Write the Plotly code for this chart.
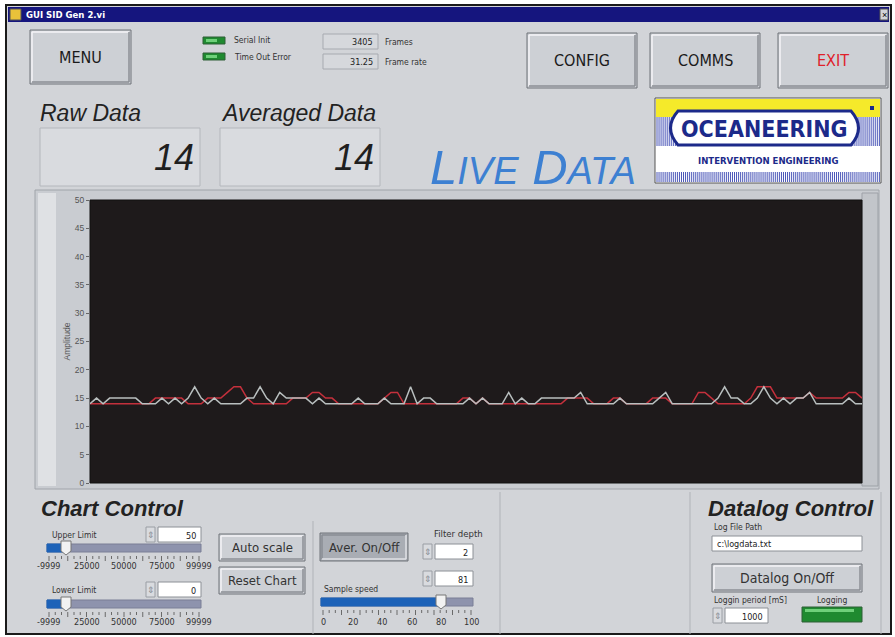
import plotly.graph_objects as go

# ---------------- data ----------------
raw_values = [14, 15, 14, 15, 15, 15, 15, 15, 14, 14,
              14, 15, 14, 15, 14, 15, 17, 15, 14, 15,
              14, 14, 14, 14, 15, 15, 17, 15, 14, 16,
              15, 15, 15, 15, 14, 15, 14, 14, 14, 14,
              14, 15, 14, 14, 14, 15, 14, 14, 14, 17,
              14, 15, 15, 14, 14, 14, 14, 14, 15, 14,
              15, 14, 14, 14, 16, 14, 15, 14, 14, 15,
              15, 15, 15, 15, 15, 16, 14, 14, 14, 14,
              14, 15, 14, 14, 14, 14, 14, 15, 16, 14,
              14, 14, 14, 14, 14, 14, 15, 17, 15, 15,
              14, 14, 15, 17, 15, 14, 15, 14, 15, 15,
              16, 14, 14, 14, 14, 14, 15, 14, 14]
avg_values = [14, 14, 14, 14, 14, 14, 14, 14, 14, 14,
              15, 15, 15, 15, 15, 14, 14, 14, 15, 15,
              15, 16, 17, 17, 15, 14, 14, 14, 14, 14,
              14, 15, 15, 15, 16, 16, 15, 15, 14, 14,
              14, 14, 14, 14, 14, 15, 16, 16, 14, 14,
              14, 14, 14, 14, 14, 14, 14, 15, 15, 14,
              15, 14, 14, 14, 14, 14, 14, 14, 14, 14,
              14, 14, 14, 15, 15, 15, 15, 14, 14, 14,
              15, 15, 14, 14, 14, 14, 15, 15, 15, 14,
              14, 14, 14, 16, 16, 15, 14, 14, 14, 14,
              14, 15, 17, 17, 17, 15, 15, 15, 15, 15,
              16, 15, 15, 15, 15, 15, 16, 16, 15]
samples = list(range(len(raw_values)))
y_ticks = [0, 5, 10, 15, 20, 25, 30, 35, 40, 45, 50]
limit_ticks = ["-9999", "25000", "50000", "75000", "99999"]
speed_ticks = ["0", "20", "40", "60", "80", "100"]

# ---------------- geometry helpers (pixel -> paper) ----------------
FW, FH = 895, 637
PL, PR, PT, PB = 90, 862, 200, 483
PW, PH = PR - PL, PB - PT


def px(x):
    return (x - PL) / PW


def py(y):
    return (PB - y) / PH


shapes = []
annotations = []
FONT = "Liberation Sans, Arial, sans-serif"
NARROW = "Liberation Sans Narrow, DejaVu Sans Condensed, Arial, sans-serif"


def rect(x0, y0, x1, y1, fill, line="rgba(0,0,0,0)", lw=1, layer="below"):
    shapes.append(dict(type="rect", xref="paper", yref="paper",
                       x0=px(x0), x1=px(x1), y0=py(y1), y1=py(y0),
                       fillcolor=fill, line=dict(color=line, width=lw),
                       layer=layer))


def hline(x0, x1, y, color, lw=1):
    shapes.append(dict(type="line", xref="paper", yref="paper",
                       x0=px(x0), x1=px(x1), y0=py(y), y1=py(y),
                       line=dict(color=color, width=lw), layer="below"))


def vline(x, y0, y1, color, lw=1):
    shapes.append(dict(type="line", xref="paper", yref="paper",
                       x0=px(x), x1=px(x), y0=py(y0), y1=py(y1),
                       line=dict(color=color, width=lw), layer="below"))


def text(x, y, s, size=9, color="#333", anchor="left", italic=False,
         bold=False, family=FONT, vanchor="middle"):
    if bold:
        s = "<b>" + s + "</b>"
    if italic:
        s = "<i>" + s + "</i>"
    annotations.append(dict(xref="paper", yref="paper", x=px(x), y=py(y),
                            text=s, showarrow=False, xanchor=anchor,
                            yanchor=vanchor,
                            font=dict(size=size, color=color, family=family)))


def button(x0, y0, x1, y1, pressed=False):
    fill = "#a9adb4" if pressed else "#cdd0d5"
    rect(x0, y0, x1, y1, fill, "#6f7379", 1)
    hl = "#8a8e94" if pressed else "#f4f5f7"
    sh = "#e0e2e6" if pressed else "#8b8f95"
    hline(x0 + 2, x1 - 2, y0 + 2, hl, 1.5)
    vline(x0 + 2, y0 + 2, y1 - 2, hl, 1.5)
    hline(x0 + 2, x1 - 2, y1 - 2, sh, 1.5)
    vline(x1 - 2, y0 + 2, y1 - 2, sh, 1.5)


def numbox(x0, y0, x1, y1, val, size=9, spin=True):
    if spin:
        rect(x0 - 12, y0, x0 - 3, y1, "#d9dbdf", "#9a9ea4", 1)
        text(x0 - 7.5, (y0 + y1) / 2, "⇕", size=9, color="#8a8e94",
             anchor="center")
    rect(x0, y0, x1, y1, "#ffffff", "#8c9096", 1)
    text(x1 - 3, (y0 + y1) / 2 + 1, val, size=size, color="#222",
         anchor="right", family=NARROW)


def led(x0, y0, x1, y1):
    rect(x0, y0, x1, y1, "#1f8a30", "#2f5f36", 1)
    rect(x0 + 3, y0 + 2, x1 - 8, y0 + 5, "#6fd07a", "rgba(0,0,0,0)", 0)


def slider(x0, x1, y, thumb, labels, label_y):
    rect(x0, y - 4, x1, y + 4, "#8e93ad", "#7b7f96", 1)
    rect(x0, y - 4, thumb, y + 4, "#1d62b8", "#1d62b8", 1)
    shapes.append(dict(type="path", xref="paper", yref="paper",
                       path="M {} {} L {} {} L {} {} L {} {} L {} {} Z".format(
                           px(thumb - 5), py(y - 7), px(thumb + 5), py(y - 7),
                           px(thumb + 5), py(y + 3), px(thumb), py(y + 7),
                           px(thumb - 5), py(y + 3)),
                       fillcolor="#f2f2f2", line=dict(color="#777", width=1),
                       layer="below"))
    n = 25
    for k in range(n):
        xx = x0 + 2 + k * (x1 - x0 - 4) / (n - 1)
        vline(xx, y + 8, y + (13 if k % 3 == 0 else 11), "#6a6a6a", 1)
    m = len(labels)
    for k, lab in enumerate(labels):
        xx = x0 + 2 + k * (x1 - x0 - 4) / (m - 1)
        text(xx, label_y, lab, size=9, color="#333", anchor="center",
             family=NARROW)


# ---------------- window background ----------------
rect(0, 0, FW, FH, "#ffffff")
rect(6, 5, 891, 634, "#d2d4d8", "#1a1a1a", 2)
rect(8, 7, 889, 22, "#15157e")
rect(10, 9, 21, 20, "#e8c23a", "#555", 1)
text(24, 14.5, "GUI SID Gen 2.vi", size=9.5, color="#ffffff", bold=True,
     family=NARROW)
rect(880, 9, 888, 20, "#d2d4d8", "#555", 1)
text(884, 14.5, "×", size=9, color="#000", anchor="center")

# ---------------- top bar ----------------
button(30, 30, 131, 84)
text(80.5, 57, "MENU", size=16, color="#1a1a1a", anchor="center", family=NARROW)
led(203, 37, 225, 44)
text(232, 40, "Serial Init", size=8.5, color="#333", family=NARROW)
led(203, 53, 225, 60)
text(232, 57, "Time Out Error", size=8.5, color="#333", family=NARROW)
rect(323, 34, 378, 49, "#d6d8dc", "#a7aab0", 1)
text(375, 41.5, "3405", size=9, color="#222", anchor="right", family=NARROW)
text(383, 41.5, "Frames", size=8.5, color="#333", family=NARROW)
rect(323, 54, 378, 69, "#d6d8dc", "#a7aab0", 1)
text(375, 61.5, "31.25", size=9, color="#222", anchor="right", family=NARROW)
text(383, 61.5, "Frame rate", size=8.5, color="#333", family=NARROW)
button(527, 33, 637, 88)
text(582, 60.5, "CONFIG", size=16, color="#1a1a1a", anchor="center", family=NARROW)
button(650, 33, 760, 88)
text(705, 60.5, "COMMS", size=16, color="#1a1a1a", anchor="center", family=NARROW)
button(778, 33, 888, 88)
text(833, 60.5, "EXIT", size=16, color="#e0202a", anchor="center", family=NARROW)

# ---------------- readouts ----------------
text(38, 113, "Raw Data", size=23, color="#222", italic=True)
rect(40, 128, 200, 186, "#d9dbdf", "#b4b7bc", 1)
text(196, 157, "14", size=36, color="#1f1f1f", anchor="right", italic=True)
text(219, 113, "Averaged Data", size=23, color="#222", italic=True)
rect(220, 128, 380, 186, "#d9dbdf", "#b4b7bc", 1)
text(376, 157, "14", size=36, color="#1f1f1f", anchor="right", italic=True)
text(428, 167,
     "L<span style='font-size:38px'>IVE</span> D<span style='font-size:38px'>ATA</span>",
     size=49, color="#3d80d2", italic=True, family=FONT)

# ---------------- logo ----------------
rect(655, 98, 881, 183, "#ffffff", "#555", 1)
rect(656, 99, 880, 117, "#f5ea2a")
for k in range(110):
    xx = 657 + k * 2.04
    vline(xx, 117, 146, "#4a56b8", 1)
    vline(xx, 172, 182, "#4a56b8", 1)
rect(656, 146, 880, 171, "#ffffff")
shapes.append(dict(type="path", xref="paper", yref="paper",
                   path="M {} {} L {} {} Q {} {} {} {} L {} {} Q {} {} {} {} Z".format(
                       px(678), py(111), px(851), py(111),
                       px(866), py(128), px(851), py(145),
                       px(678), py(145),
                       px(663), py(128), px(678), py(111)),
                   fillcolor="#ffffff", line=dict(color="#1c2a8a", width=3),
                   layer="below"))
text(764, 129, "OCEANEERING", size=23, color="#1c2a8a", anchor="center",
     bold=True, family="DejaVu Sans Condensed, Liberation Sans Narrow, sans-serif")
text(768, 160, "INTERVENTION ENGINEERING", size=9.5, color="#1c2a8a",
     anchor="center", bold=True,
     family="DejaVu Sans Condensed, Liberation Sans Narrow, sans-serif")
rect(870, 106, 874, 110, "#1c2a8a")

# ---------------- chart panel ----------------
rect(35, 190, 879, 489, "#c9ccd1", "#a0a4aa", 1)
rect(38, 193, 56, 486, "#dfe1e4")
rect(862, 193, 878, 486, "#c2c5ca", "#9da1a7", 1)
rect(PL, PT, PR, PB, "#1e1a1b", "#111", 1)

# ---------------- bottom controls ----------------
vline(313, 521, 634, "#b0b3b8", 1)
vline(500, 492, 634, "#b0b3b8", 1)
vline(690, 492, 634, "#b0b3b8", 1)
vline(881, 492, 634, "#b0b3b8", 1)
text(39, 508, "Chart Control", size=22, color="#222", italic=True, bold=True)
text(706, 508, "Datalog Control", size=22, color="#222", italic=True, bold=True)

text(50, 535, "Upper Limit", size=8.5, color="#333", family=NARROW)
numbox(158, 527, 201, 542, "50")
slider(47, 201, 548, 66, limit_ticks, 566)
text(50, 590, "Lower Limit", size=8.5, color="#333", family=NARROW)
numbox(158, 582, 201, 597, "0")
slider(47, 201, 604, 66, limit_ticks, 622)

button(219, 534, 305, 561)
text(262, 547.5, "Auto scale", size=13, color="#333", anchor="center", family=NARROW)
button(219, 567, 305, 594)
text(262, 580.5, "Reset Chart", size=13, color="#333", anchor="center", family=NARROW)
button(320, 533, 408, 561, pressed=True)
text(364, 547, "Aver. On/Off", size=13, color="#333", anchor="center", family=NARROW)

text(458, 533, "Filter depth", size=9.5, color="#333", anchor="center", family=NARROW)
numbox(435, 544, 473, 559, "2")
numbox(435, 571, 473, 586, "81")
text(322, 589, "Sample speed", size=8.5, color="#333", family=NARROW)
slider(321, 473, 602, 441, speed_ticks, 622)

text(712, 527, "Log File Path", size=8.5, color="#333", family=NARROW)
rect(712, 536, 862, 551, "#ffffff", "#8c9096", 1)
text(715, 543.5, "c:\\logdata.txt", size=9, color="#222", family=NARROW)
button(712, 564, 862, 592)
text(787, 578, "Datalog On/Off", size=14, color="#333", anchor="center", family=NARROW)
text(712, 600, "Loggin period [mS]", size=8.5, color="#333", family=NARROW)
numbox(725, 608, 768, 623, "1000")
text(832, 600, "Logging", size=8.5, color="#333", anchor="center", family=NARROW)
led(802, 607, 862, 622)

# ---------------- data traces ----------------
fig = go.Figure()
fig.add_trace(go.Scatter(x=samples, y=avg_values, mode="lines",
                         line=dict(color="#c4303c", width=1.5),
                         name="Averaged", hoverinfo="skip"))
fig.add_trace(go.Scatter(x=samples, y=raw_values, mode="lines",
                         line=dict(color="#b9bfbf", width=1.5),
                         name="Raw", hoverinfo="skip"))

fig.update_layout(
    width=FW, height=FH,
    margin=dict(l=PL, r=FW - PR, t=PT, b=FH - PB, pad=0),
    paper_bgcolor="#ffffff",
    plot_bgcolor="rgba(0,0,0,0)",
    showlegend=False,
    shapes=shapes,
    annotations=annotations,
    xaxis=dict(range=[0, len(samples) - 1], visible=False, fixedrange=True),
    yaxis=dict(range=[0, 50], tickvals=y_ticks, showgrid=False,
               zeroline=False, ticks="outside", ticklen=3, tickcolor="#666",
               tickfont=dict(size=8.5, color="#555", family=FONT),
               title=dict(text="Amplitude", standoff=2,
                          font=dict(size=8.5, color="#555", family=FONT)),
               fixedrange=True),
)

fig.write_html("out.html", config={"displayModeBar": False},
               post_script="document.body.style.margin='0';"
                           "document.body.style.overflow='hidden';")
